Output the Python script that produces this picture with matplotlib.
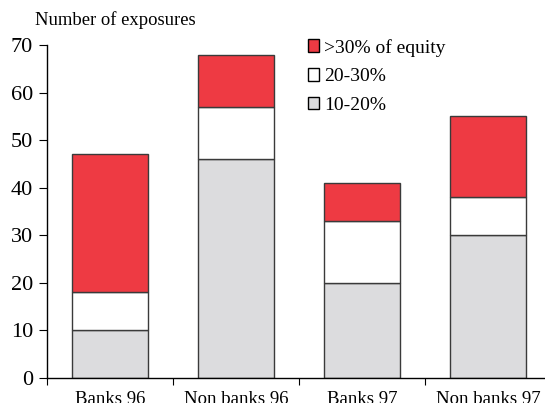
"""Stacked bars: number of large exposures by size class"""

import matplotlib.pyplot as plt
from matplotlib.patches import Patch

plt.rcParams['font.family'] = ['Liberation Serif', 'DejaVu Serif']

categories = ['Banks 96', 'Non banks 96', 'Banks 97', 'Non banks 97']
low = [10, 46, 20, 30]       # 10-20%
mid = [8, 11, 13, 8]         # 20-30%
high = [29, 11, 8, 17]       # >30% of equity
yticks = [0, 10, 20, 30, 40, 50, 60, 70]

red = '#EE3A43'
grey = '#DCDCDE'
edge = '#3a3a3a'

fig = plt.figure(figsize=(5.45, 4.03), dpi=100)
ax = fig.add_axes([47 / 545, 25 / 403, 504 / 545, 333 / 403])

x = range(len(categories))
bottom_mid = [a for a in low]
bottom_high = [a + b for a, b in zip(low, mid)]
ax.bar(x, low, width=0.6, color=grey, edgecolor=edge, linewidth=1)
ax.bar(x, mid, width=0.6, bottom=bottom_mid, color='white', edgecolor=edge, linewidth=1)
ax.bar(x, high, width=0.6, bottom=bottom_high, color=red, edgecolor=edge, linewidth=1)

ax.set_xlim(-0.5, 3.5)
ax.set_ylim(0, 70)
ax.set_yticks(yticks)
ax.tick_params(axis='y', labelsize=16, length=6, direction='out', pad=4)

# ticks on category boundaries, labels at centres
ax.set_xticks([-0.5, 0.5, 1.5, 2.5, 3.5])
ax.set_xticklabels([])
ax.tick_params(axis='x', which='major', length=5, direction='out')
ax.set_xticks(list(x), minor=True)
ax.set_xticklabels(categories, minor=True)
ax.tick_params(axis='x', which='minor', length=0, labelsize=13.5, pad=9)

for s in ['top', 'right']:
    ax.spines[s].set_visible(False)
for s in ['left', 'bottom']:
    ax.spines[s].set_linewidth(1)

fig.text(35 / 545, 1 - 20 / 403, 'Number of exposures', fontsize=13.4, va='center')

handles = [Patch(facecolor=red, edgecolor='black'),
           Patch(facecolor='white', edgecolor='black'),
           Patch(facecolor=grey, edgecolor='black')]
labels = ['>30% of equity', '20-30%', '10-20%']
ax.legend(handles, labels, loc='upper left', bbox_to_anchor=(0.49, 1.06),
          frameon=False, fontsize=14, handlelength=0.6, handleheight=0.6,
          handletextpad=0.25, labelspacing=0.6, borderpad=0.2)

fig.savefig('out.png', dpi=100)
